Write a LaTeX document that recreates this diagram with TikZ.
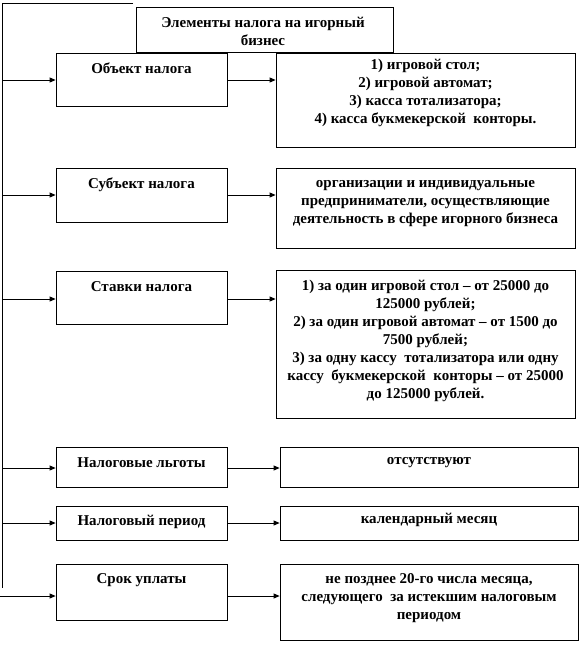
\documentclass[tikz,border=0pt]{standalone}
\usepackage{fontspec}
\setmainfont{Liberation Serif}
\usetikzlibrary{fit,arrows.meta}
\tikzset{
  box/.style={draw, line width=0.8pt, inner sep=0pt},
  txt/.style={font=\fontsize{15}{18}\selectfont\bfseries, align=center, inner sep=0pt},
  arr/.style={line width=0.8pt, -{Triangle[length=6pt,width=5pt]}},
  ln/.style={line width=0.8pt}
}
\begin{document}
\begin{tikzpicture}[x=1pt,y=-1pt]
\useasboundingbox (0,0) rectangle (584,645);
% trunk
\coordinate (tr0) at (133,3);
\coordinate (tr1) at (2,3);
\coordinate (tr2) at (2,588);
\draw[ln] (tr0) -- (tr1) -- (tr2);
% title
\node[box, fill=white, fit={(136,7) (393,52)}] (title) {};
\node[txt] (titlet) at (263,31.5) {Элементы налога на игорный\\бизнес};
% row 1
\node[box, fill=white, fit={(56,53) (227,106)}] (l1) {};
\node[txt] (l1t) at (141.5,68) {Объект налога};
\node[box, fit={(276,53) (575,147)}] (r1) {};
\node[txt] (r1t) at (425.5,93) {1) игровой стол;\\2) игровой автомат;\\3) касса тотализатора;\\4) касса букмекерской\ \ конторы.};
\coordinate (a1) at (2,80);
% row 2
\node[box, fit={(56,168) (227,222)}] (l2) {};
\node[txt] (l2t) at (141.5,185) {Субъект налога};
\node[box, fit={(276,168) (575,248)}] (r2) {};
\node[txt] (r2t) at (425.5,203.5) {организации и индивидуальные\\предприниматели, осуществляющие\\деятельность в сфере игорного бизнеса};
\coordinate (a2) at (2,195);
% row 3
\node[box, fit={(56,271) (227,324)}] (l3) {};
\node[txt] (l3t) at (141.5,287) {Ставки налога};
\node[box, fit={(276,270) (575,418)}] (r3) {};
\node[txt] (r3t) at (425.5,341) {1) за один игровой стол -- от 25000 до\\125000 рублей;\\2) за один игровой автомат -- от 1500 до\\7500 рублей;\\3) за одну кассу\ \ тотализатора или одну\\кассу\ \ букмекерской\ \ конторы -- от 25000\\до 125000 рублей.};
\coordinate (a3) at (2,299);
% row 4
\node[box, fit={(56,447) (227,487)}] (l4) {};
\node[txt] (l4t) at (141.5,463) {Налоговые льготы};
\node[box, fit={(280,447) (578,487)}] (r4) {};
\node[txt] (r4t) at (429,463) {отсутствуют};
\coordinate (a4) at (2,468);
% row 5
\node[box, fit={(56,506) (227,540)}] (l5) {};
\node[txt] (l5t) at (141.5,522) {Налоговый период};
\node[box, fit={(280,506) (578,540)}] (r5) {};
\node[txt] (r5t) at (429,520) {календарный месяц};
\coordinate (a5) at (2,523);
% row 6
\node[box, fit={(56,564) (227,620)}] (l6) {};
\node[txt] (l6t) at (141.5,580) {Срок уплаты};
\node[box, fit={(280,564) (578,640)}] (r6) {};
\node[txt] (r6t) at (429,598.5) {не позднее 20-го числа месяца,\\следующего\ \ за истекшим налоговым\\периодом};
\coordinate (a6) at (0,596);
% arrows
\foreach \i in {1,...,6}{
  \draw[arr] (a\i) -- (a\i -| l\i.west);
  \draw[arr] (a\i -| l\i.east) -- (a\i -| r\i.west);
}
\end{tikzpicture}
\end{document}
